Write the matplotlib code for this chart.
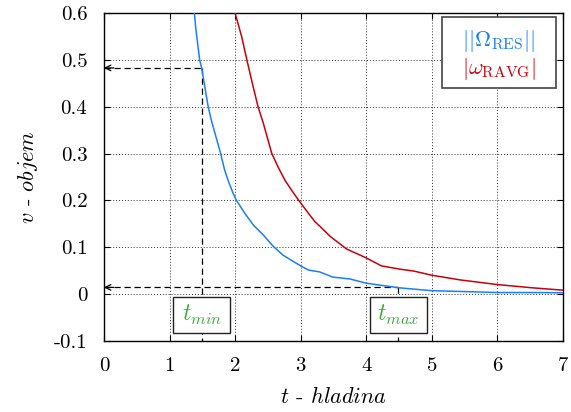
"""
Hladina vs. objem
-----------------
Recreates the ||Omega_RES|| / |omega_RAVG| decay chart with the
t_min / t_max markers.
"""
import matplotlib
matplotlib.use('Agg')
import matplotlib.pyplot as plt
from matplotlib.patches import Rectangle

# + + + Data + + +
t_res = [1.38, 1.40, 1.46, 1.49, 1.53, 1.59, 1.64, 1.71, 1.78, 1.84, 1.90,
         1.97, 2.02, 2.15, 2.28, 2.43, 2.58, 2.73, 2.88, 3.00, 3.12, 3.29,
         3.49, 3.75, 4.00, 4.25, 4.51, 4.75, 5.00, 5.50, 6.00, 6.50, 7.00]
v_res = [0.600, 0.568, 0.500, 0.483, 0.450, 0.400, 0.370, 0.335, 0.300,
         0.265, 0.240, 0.215, 0.200, 0.172, 0.147, 0.126, 0.102, 0.083,
         0.070, 0.060, 0.051, 0.047, 0.036, 0.032, 0.023, 0.018, 0.013,
         0.010, 0.007, 0.005, 0.003, 0.003, 0.0025]

t_ravg = [2.00, 2.10, 2.18, 2.27, 2.35, 2.43, 2.56, 2.66, 2.76, 2.86, 2.96,
          3.12, 3.22, 3.29, 3.45, 3.70, 4.00, 4.23, 4.51, 4.72, 5.00, 5.43,
          6.00, 6.54, 7.00]
v_ravg = [0.600, 0.550, 0.500, 0.446, 0.400, 0.365, 0.300, 0.270, 0.243,
          0.222, 0.202, 0.172, 0.154, 0.145, 0.123, 0.096, 0.077, 0.060,
          0.053, 0.049, 0.040, 0.030, 0.020, 0.013, 0.008]

t_min, v_max = 1.49, 0.483
t_max, v_min = 4.49, 0.014

x_ticks = [0, 1, 2, 3, 4, 5, 6, 7]
y_ticks = [-0.1, 0, 0.1, 0.2, 0.3, 0.4, 0.5, 0.6]
y_tick_labels = ['-0.1', '0', '0.1', '0.2', '0.3', '0.4', '0.5', '0.6']

BLUE = '#1a7ff5'
RED = '#c8000a'
GREEN = '#3caa3c'

plt.rcParams['font.family'] = 'serif'
plt.rcParams['font.serif'] = ['cmr10']
plt.rcParams['mathtext.fontset'] = 'cm'
plt.rcParams['axes.unicode_minus'] = False

fig = plt.figure(figsize=(5.71, 4.12), dpi=100)
ax = fig.add_axes([0.182, 0.173, 0.804, 0.795])

# grid and ticks
ax.set_xlim(0, 7)
ax.set_ylim(-0.1, 0.6)
ax.set_xticks(x_ticks)
ax.set_xticklabels([str(x) for x in x_ticks])
ax.set_yticks(y_ticks)
ax.set_yticklabels(y_tick_labels)
ax.tick_params(direction='in', top=True, right=True, length=4, width=0.8,
               labelsize=15)
ax.tick_params(axis='y', pad=12)
ax.tick_params(axis='x', pad=12)
ax.grid(True, linestyle=(0, (1, 2)), color='#333333', linewidth=0.7)
for s in ax.spines.values():
    s.set_linewidth(1.0)

# curves
ax.plot(t_res, v_res, color=BLUE, lw=1.1, zorder=3)
ax.plot(t_ravg, v_ravg, color=RED, lw=1.1, zorder=3)

# dashed guide lines
dash = dict(color='black', lw=0.9, dashes=(5, 3), zorder=2)
ax.plot([0, t_min], [v_max, v_max], **dash)
ax.plot([t_min, t_min], [v_max, -0.1], **dash)
ax.plot([0, t_max], [v_min, v_min], **dash)
ax.plot([t_max, t_max], [v_min, -0.1], **dash)
for v in (v_max, v_min):
    ax.annotate('', xy=(0.0, v), xytext=(0.15, v),
                arrowprops=dict(arrowstyle='->', lw=0.9, color='black',
                                shrinkA=0, shrinkB=0), zorder=4)

# t_min / t_max boxes
for tc, lab in ((t_min, r'$t_{min}$'), (t_max, r'$t_{max}$')):
    ax.add_patch(Rectangle((tc - 0.43, -0.084), 0.86, 0.077,
                           facecolor='white', edgecolor='#222222',
                           lw=1.0, zorder=5))
    ax.text(tc, -0.0455, lab, color=GREEN, fontsize=17,
            ha='center', va='center', zorder=6)

# legend box
ax.add_patch(Rectangle((0.736, 0.772), 0.249, 0.217, transform=ax.transAxes,
                       facecolor='white', edgecolor='#444444', lw=1.2,
                       zorder=5))
ax.text(0.86, 0.915, r'$||\Omega_{\mathrm{RES}}||$', color=BLUE,
        fontsize=16, ha='center', va='center', transform=ax.transAxes,
        zorder=6)
ax.text(0.86, 0.83, r'$|\omega_{\mathrm{RAVG}}|$', color=RED,
        fontsize=16, ha='center', va='center', transform=ax.transAxes,
        zorder=6)

ax.set_xlabel(r'$t$ - $hladina$', fontsize=16, labelpad=8)
ax.set_ylabel(r'$v$ - $objem$', fontsize=16, labelpad=10)

fig.savefig('out.png', dpi=100)
